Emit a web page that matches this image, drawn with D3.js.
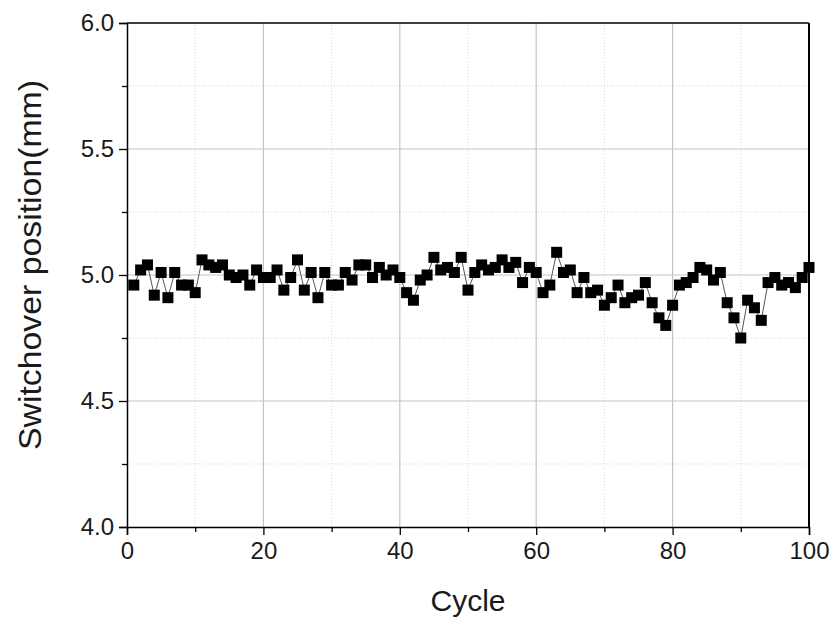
<!DOCTYPE html>
<html>
<head>
<meta charset="utf-8">
<script src="https://cdn.jsdelivr.net/npm/d3@7"></script>
<style>
  body { margin: 0; background: #fff; }
  svg { display: block; font-family: "Liberation Sans", Arial, sans-serif; }
</style>
</head>
<body>
<div id="chart"></div>
<script>
// switchover position per cycle (cycle 1..100)
const positions = [
  4.96, 5.02, 5.04, 4.92, 5.01, 4.91, 5.01, 4.96, 4.96, 4.93,
  5.06, 5.04, 5.03, 5.04, 5.00, 4.99, 5.00, 4.96, 5.02, 4.99,
  4.99, 5.02, 4.94, 4.99, 5.06, 4.94, 5.01, 4.91, 5.01, 4.96,
  4.96, 5.01, 4.98, 5.04, 5.04, 4.99, 5.03, 5.00, 5.02, 4.99,
  4.93, 4.90, 4.98, 5.00, 5.07, 5.02, 5.03, 5.01, 5.07, 4.94,
  5.01, 5.04, 5.02, 5.03, 5.06, 5.03, 5.05, 4.97, 5.03, 5.01,
  4.93, 4.96, 5.09, 5.01, 5.02, 4.93, 4.99, 4.93, 4.94, 4.88,
  4.91, 4.96, 4.89, 4.91, 4.92, 4.97, 4.89, 4.83, 4.80, 4.88,
  4.96, 4.97, 4.99, 5.03, 5.02, 4.98, 5.01, 4.89, 4.83, 4.75,
  4.90, 4.87, 4.82, 4.97, 4.99, 4.96, 4.97, 4.95, 4.99, 5.03
];
const xMajorTicks = [0, 20, 40, 60, 80, 100];
const xMinorTicks = [10, 30, 50, 70, 90];
const yMajorTicks = [4.0, 4.5, 5.0, 5.5, 6.0];
const yMinorTicks = [4.25, 4.75, 5.25, 5.75];

const data = positions.map((v, i) => ({ cycle: i + 1, value: v }));

const width = 833, height = 644;
const margin = { top: 23, right: 24, bottom: 117, left: 127 };

const x = d3.scaleLinear().domain([0, 100]).range([margin.left, width - margin.right]);
const y = d3.scaleLinear().domain([4, 6]).range([height - margin.bottom, margin.top]);

const svg = d3.select("#chart").append("svg")
  .attr("width", width)
  .attr("height", height);

// ---- grid
const grid = svg.append("g");
grid.selectAll("line.xminor").data(xMinorTicks).join("line")
  .attr("x1", d => x(d)).attr("x2", d => x(d))
  .attr("y1", y(4)).attr("y2", y(6))
  .attr("stroke", "#d8d8d8").attr("stroke-dasharray", "1,2");
grid.selectAll("line.yminor").data(yMinorTicks).join("line")
  .attr("x1", x(0)).attr("x2", x(100))
  .attr("y1", d => y(d)).attr("y2", d => y(d))
  .attr("stroke", "#d8d8d8").attr("stroke-dasharray", "1,2");
grid.selectAll("line.xmajor").data(xMajorTicks.slice(1, -1)).join("line")
  .attr("x1", d => x(d)).attr("x2", d => x(d))
  .attr("y1", y(4)).attr("y2", y(6))
  .attr("stroke", "#c4c4c4").attr("stroke-width", 1.2);
grid.selectAll("line.ymajor").data(yMajorTicks.slice(1, -1)).join("line")
  .attr("x1", x(0)).attr("x2", x(100))
  .attr("y1", d => y(d)).attr("y2", d => y(d))
  .attr("stroke", "#c4c4c4").attr("stroke-width", 1.2);

// ---- series
svg.append("path")
  .datum(data)
  .attr("fill", "none")
  .attr("stroke", "#555")
  .attr("stroke-width", 1)
  .attr("d", d3.line().x(d => x(d.cycle)).y(d => y(d.value)));

const sq = 11;
svg.append("g").selectAll("rect").data(data).join("rect")
  .attr("x", d => x(d.cycle) - sq / 2)
  .attr("y", d => y(d.value) - sq / 2)
  .attr("width", sq).attr("height", sq)
  .attr("fill", "#000");

// ---- axes
const xAxis = svg.append("g")
  .attr("transform", `translate(0,${y(4)})`)
  .call(d3.axisBottom(x).tickValues(xMajorTicks).tickSize(8).tickPadding(7).tickFormat(d3.format("d")));
svg.append("g")
  .attr("transform", `translate(0,${y(4)})`)
  .call(d3.axisBottom(x).tickValues(xMinorTicks).tickSize(5).tickFormat(""))
  .call(g => g.select(".domain").remove());

const yAxis = svg.append("g")
  .attr("transform", `translate(${x(0)},0)`)
  .call(d3.axisLeft(y).tickValues(yMajorTicks).tickSize(8).tickPadding(5).tickFormat(d3.format(".1f")));
svg.append("g")
  .attr("transform", `translate(${x(0)},0)`)
  .call(d3.axisLeft(y).tickValues(yMinorTicks).tickSize(5).tickFormat(""))
  .call(g => g.select(".domain").remove());

svg.selectAll(".domain").attr("stroke", "#000").attr("stroke-width", 1.5);
svg.selectAll(".tick line").attr("stroke", "#000").attr("stroke-width", 1.3);
xAxis.selectAll("text").attr("font-size", 24).attr("fill", "#1a1a1a");
yAxis.selectAll("text").attr("font-size", 24).attr("fill", "#1a1a1a");

// frame top / right
svg.append("line")
  .attr("x1", x(0)).attr("x2", x(100)).attr("y1", y(6)).attr("y2", y(6))
  .attr("stroke", "#000").attr("stroke-width", 1.5);
svg.append("line")
  .attr("x1", x(100)).attr("x2", x(100)).attr("y1", y(6)).attr("y2", y(4))
  .attr("stroke", "#000").attr("stroke-width", 2);

// ---- titles
svg.append("text")
  .attr("x", (x(0) + x(100)) / 2)
  .attr("y", 611)
  .attr("text-anchor", "middle")
  .attr("font-size", 30)
  .attr("fill", "#1a1a1a")
  .text("Cycle");

svg.append("text")
  .attr("transform", `translate(41,${y(5) - 10}) rotate(-90)`)
  .attr("text-anchor", "middle")
  .attr("font-size", 32)
  .attr("textLength", 370)
  .attr("lengthAdjust", "spacingAndGlyphs")
  .attr("fill", "#1a1a1a")
  .text("Switchover position(mm)");
</script>
</body>
</html>
